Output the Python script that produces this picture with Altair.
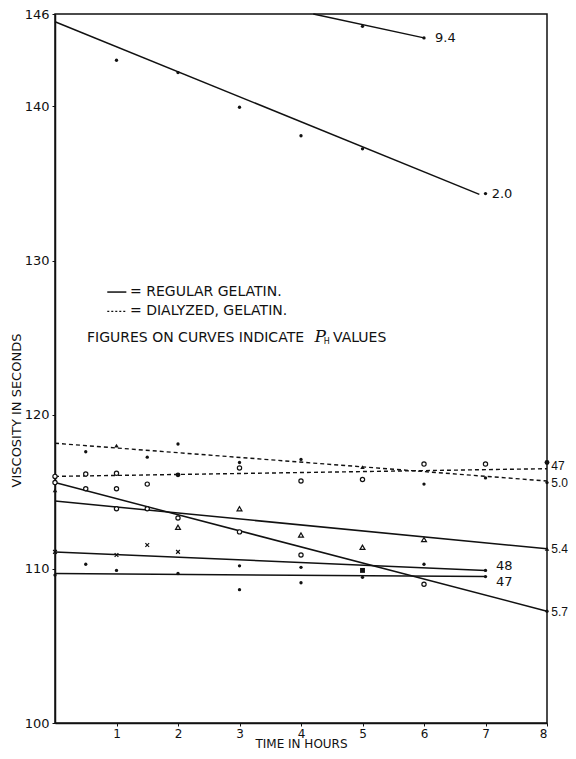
import altair as alt
import pandas as pd

# ---------------- axis ticks ----------------
x_ticks = [1, 2, 3, 4, 5, 6, 7, 8]
y_ticks = [100, 110, 120, 130, 140, 146]

# ---------------- fitted lines (start/end) ----------------
reg_ph = ["2.0", "9.4", "5.7", "5.4", "4.8", "4.7"]
reg_t0 = [0.0, 4.2, 0.0, 0.0, 0.0, 0.0]
reg_v0 = [145.5, 146.0, 115.6, 114.4, 111.1, 109.7]
reg_t1 = [6.9, 6.0, 8.0, 8.0, 7.0, 7.0]
reg_v1 = [134.3, 144.45, 107.25, 111.3, 109.9, 109.5]

dia_ph = ["5.0", "4.7"]
dia_t0 = [0.0, 0.0]
dia_v0 = [118.15, 116.0]
dia_t1 = [8.0, 8.0]
dia_v1 = [115.7, 116.5]

# ---------------- observations by marker ----------------
dot_t = [1, 2, 3, 4, 5, 7,
         5, 6,
         0.5, 1.5, 2, 3, 4, 6, 7, 8,
         8,
         4, 6, 7,
         0, 0.5, 1, 2, 3, 3, 4, 5, 7]
dot_v = [143.0, 142.2, 139.95, 138.1, 137.25, 134.35,
         145.2, 144.45,
         117.6, 117.25, 118.1, 116.9, 117.1, 115.5, 115.9, 115.6,
         107.25,
         110.1, 110.3, 109.9,
         109.6, 110.3, 109.9, 109.7, 110.2, 108.65, 109.1, 109.45, 109.5]

bigdot_t = [2, 8]
bigdot_v = [116.1, 116.9]

circ_t = [0, 0.5, 1, 3, 4, 5, 6, 7,
          0, 0.5, 1, 1.5, 2, 3, 4, 6,
          1, 1.5]
circ_v = [116.0, 116.15, 116.2, 116.55, 115.7, 115.8, 116.8, 116.8,
          115.6, 115.2, 115.2, 115.5, 113.3, 112.4, 110.9, 109.0,
          113.9, 113.9]

otri_t = [2, 3, 4, 5, 6]
otri_v = [112.7, 113.9, 112.2, 111.4, 111.9]

ftri_t = [1, 5, 0, 8]
ftri_v = [118.0, 116.6, 115.1, 111.3]

cross_t = [0, 1, 1.5, 2]
cross_v = [111.1, 110.9, 111.55, 111.1]

sq_t = [5]
sq_v = [109.9]

# ---------------- curve labels (pH values) ----------------
lab_text = ["2.0", "9.4", "48", "47"]
lab_t = [7.1, 6.18, 7.17, 7.17]
lab_v = [134.3, 144.45, 110.2, 109.15]

edge_text = ["47", "5.0", "5.4", "5.7"]
edge_t = [8.07, 8.07, 8.07, 8.07]
edge_v = [116.7, 115.6, 111.3, 107.2]

# ---------------- key (legend drawn inside plot) ----------------
key_line_t = [0.85, 1.16]
key_solid_v = 127.96
key_dash_v = 126.7
key_text = ["= REGULAR GELATIN.", "= DIALYZED, GELATIN.", "FIGURES ON CURVES INDICATE", "VALUES"]
key_text_t = [1.22, 1.22, 0.52, 4.52]
key_text_v = [127.96, 126.7, 125.0, 125.0]
ph_p_t, ph_p_v = 4.22, 125.05
ph_h_t, ph_h_v = 4.37, 124.75

# ---------------- build tables ----------------
def seg_table(names, t0, v0, t1, v1):
    rows = []
    for n, a, b, c, d in zip(names, t0, v0, t1, v1):
        rows.append({"series": n, "t": a, "v": b})
        rows.append({"series": n, "t": c, "v": d})
    return pd.DataFrame(rows)

reg_df = seg_table(reg_ph, reg_t0, reg_v0, reg_t1, reg_v1)
dia_df = seg_table(dia_ph, dia_t0, dia_v0, dia_t1, dia_v1)
key_solid_df = pd.DataFrame({"series": ["k", "k"], "t": key_line_t, "v": [key_solid_v] * 2})
key_dash_df = pd.DataFrame({"series": ["k", "k"], "t": key_line_t, "v": [key_dash_v] * 2})

FONT = "DejaVu Sans"
INK = "#111111"

X = alt.X("t:Q",
          scale=alt.Scale(domain=[0, 8], nice=False, zero=False),
          axis=alt.Axis(values=x_ticks, title="TIME IN HOURS", grid=False,
                        tickSize=3, labelPadding=2, labelFontSize=12,
                        titleFontSize=12, titleFontWeight="normal",
                        titleY=24, titleBaseline="alphabetic",
                        labelFont=FONT, titleFont=FONT,
                        domainColor=INK, tickColor=INK, labelColor=INK, titleColor=INK,
                        domainWidth=1.5))
Y = alt.Y("v:Q",
          scale=alt.Scale(domain=[100, 146], nice=False, zero=False),
          axis=alt.Axis(values=y_ticks, title="VISCOSITY IN SECONDS", grid=False,
                        tickSize=3, labelPadding=3, labelFontSize=13,
                        titleFontSize=13, titleFontWeight="normal",
                        titleX=-39, titleY=396, titleAlign="center",
                        titleBaseline="middle", titleAngle=270,
                        labelFont=FONT, titleFont=FONT,
                        domainColor=INK, tickColor=INK, labelColor=INK, titleColor=INK,
                        domainWidth=1.5))

def pts(ts, vs):
    return pd.DataFrame({"t": ts, "v": vs})

solid = alt.Chart(reg_df).mark_line(color=INK, strokeWidth=1.5).encode(x=X, y=Y, detail="series:N")
dashed = alt.Chart(dia_df).mark_line(color=INK, strokeWidth=1.4, strokeDash=[4, 3]).encode(x=X, y=Y, detail="series:N")
key_solid = alt.Chart(key_solid_df).mark_line(color=INK, strokeWidth=1.5).encode(x=X, y=Y)
key_dash = alt.Chart(key_dash_df).mark_line(color=INK, strokeWidth=1.3, strokeDash=[2, 2]).encode(x=X, y=Y)

dots = alt.Chart(pts(dot_t, dot_v)).mark_point(shape="circle", filled=True, size=11, color=INK, opacity=1).encode(x=X, y=Y)
bigdots = alt.Chart(pts(bigdot_t, bigdot_v)).mark_point(shape="circle", filled=True, size=24, color=INK, opacity=1).encode(x=X, y=Y)
circs = alt.Chart(pts(circ_t, circ_v)).mark_point(shape="circle", filled=False, size=18, color=INK, strokeWidth=1.2, opacity=1, fill="white").encode(x=X, y=Y)
otris = alt.Chart(pts(otri_t, otri_v)).mark_point(shape="triangle-up", filled=False, size=24, color=INK, strokeWidth=1.2, opacity=1, fill="white").encode(x=X, y=Y)
ftris = alt.Chart(pts(ftri_t, ftri_v)).mark_point(shape="triangle-up", filled=True, size=20, color=INK, opacity=1).encode(x=X, y=Y)
crosses = alt.Chart(pts(cross_t, cross_v)).mark_point(shape="M-1,-1L1,1M-1,1L1,-1", filled=False, size=14, color=INK, strokeWidth=1.2, opacity=1).encode(x=X, y=Y)
squares = alt.Chart(pts(sq_t, sq_v)).mark_point(shape="square", filled=True, size=24, color=INK, opacity=1).encode(x=X, y=Y)

labels = alt.Chart(pd.DataFrame({"t": lab_t, "v": lab_v, "s": lab_text})).mark_text(
    align="left", baseline="middle", fontSize=13, font=FONT, color=INK).encode(x=X, y=Y, text="s:N")
edge_labels = alt.Chart(pd.DataFrame({"t": edge_t, "v": edge_v, "s": edge_text})).mark_text(
    align="left", baseline="middle", fontSize=12, font="Liberation Sans", color=INK).encode(x=X, y=Y, text="s:N")
key_texts = alt.Chart(pd.DataFrame({"t": key_text_t, "v": key_text_v, "s": key_text})).mark_text(
    align="left", baseline="middle", fontSize=14, font=FONT, color=INK).encode(x=X, y=Y, text="s:N")
ph_p = alt.Chart(pd.DataFrame({"t": [ph_p_t], "v": [ph_p_v], "s": ["P"]})).mark_text(
    align="left", baseline="middle", fontSize=17, font="DejaVu Serif", fontStyle="italic", color=INK).encode(x=X, y=Y, text="s:N")
ph_h = alt.Chart(pd.DataFrame({"t": [ph_h_t], "v": [ph_h_v], "s": ["H"]})).mark_text(
    align="left", baseline="middle", fontSize=8, font=FONT, color=INK).encode(x=X, y=Y, text="s:N")

chart = alt.layer(solid, dashed, key_solid, key_dash, dots, bigdots, circs, otris, ftris,
                  crosses, squares, labels, edge_labels, key_texts, ph_p, ph_h).properties(
    width=492, height=709,
    padding={"left": 47, "top": 6, "right": 21, "bottom": 28},
    autosize=alt.AutoSizeParams(type="none"),
    background="white",
).configure_view(stroke=INK, strokeWidth=1.5)

chart.save("out.html", embed_options={"renderer": "svg", "actions": False})
